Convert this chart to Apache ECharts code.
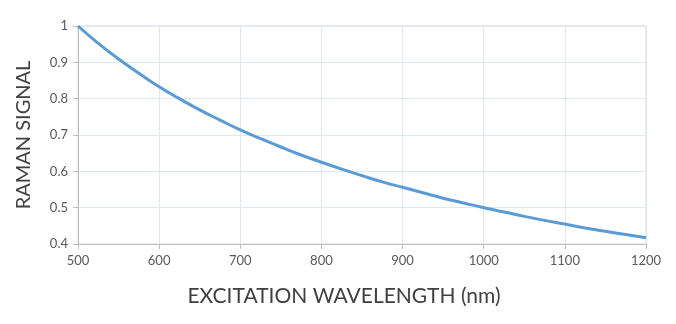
<!DOCTYPE html>
<html>
<head>
<meta charset="utf-8">
<script src="https://cdn.jsdelivr.net/npm/echarts@6/dist/echarts.min.js"></script>
<style>
  html, body { margin: 0; padding: 0; background: #fff; }
  #chart { width: 676px; height: 324px; }
</style>
</head>
<body>
<div id="chart"></div>
<script>
// Excitation wavelength (nm) and relative Raman signal
const wavelengths = [500, 525, 550, 575, 600, 625, 650, 675, 700, 725, 750, 775, 800, 825, 850, 875, 900, 925, 950, 975, 1000, 1025, 1050, 1075, 1100, 1125, 1150, 1175, 1200];
const ramanSignal = [1.000, 0.952, 0.909, 0.870, 0.833, 0.800, 0.769, 0.741, 0.714, 0.690, 0.667, 0.645, 0.625, 0.606, 0.588, 0.571, 0.556, 0.541, 0.526, 0.513, 0.500, 0.488, 0.476, 0.465, 0.455, 0.444, 0.435, 0.426, 0.417];
const xTicks = [500, 600, 700, 800, 900, 1000, 1100, 1200];
const yTicks = [0.4, 0.5, 0.6, 0.7, 0.8, 0.9, 1];

const font = 'Lato, "Open Sans", sans-serif';
const chart = echarts.init(document.getElementById('chart'), null, { renderer: 'canvas' });

chart.setOption({
  animation: false,
  grid: { left: 78, right: 30, top: 26, bottom: 80, show: true, borderColor: '#d9d9d9', borderWidth: 1 },
  xAxis: {
    type: 'value',
    min: xTicks[0], max: xTicks[xTicks.length - 1], interval: 100,
    name: 'EXCITATION WAVELENGTH (nm)',
    nameLocation: 'middle', nameGap: 42,
    nameTextStyle: { fontFamily: font, fontSize: 21, color: '#404040', verticalAlign: 'top', padding: [0, 36, 0, 0] },
    axisLine: { show: true, lineStyle: { color: '#bfbfbf', width: 1 } },
    axisTick: { show: true, length: 5, lineStyle: { color: '#bfbfbf' } },
    axisLabel: { fontFamily: font, fontSize: 13, color: '#595959', margin: 10,
      formatter: v => String(v) },
    splitLine: { show: true, lineStyle: { color: '#dce7f4', width: 1 } }
  },
  yAxis: {
    type: 'value',
    min: yTicks[0], max: yTicks[yTicks.length - 1], interval: 0.1,
    name: 'RAMAN SIGNAL',
    nameLocation: 'middle', nameGap: 44,
    nameTextStyle: { fontFamily: font, fontSize: 20, color: '#404040' },
    axisLine: { show: true, lineStyle: { color: '#bfbfbf', width: 1 } },
    axisTick: { show: true, length: 5, lineStyle: { color: '#bfbfbf' } },
    axisLabel: { fontFamily: font, fontSize: 13, color: '#595959', margin: 10,
      formatter: v => String(Math.round(v * 10) / 10) },
    splitLine: { show: true, lineStyle: { color: '#dce7f4', width: 1 } }
  },
  series: [{
    type: 'line',
    data: wavelengths.map((w, i) => [w, ramanSignal[i]]),
    smooth: true,
    showSymbol: false,
    lineStyle: { color: '#5b9bd5', width: 3 },
    itemStyle: { color: '#5b9bd5' }
  }]
});
</script>
</body>
</html>
